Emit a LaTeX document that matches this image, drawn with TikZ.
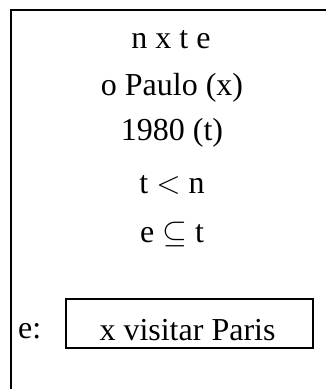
\RequirePackage{fix-cm}
\documentclass[tikz,border=0pt]{standalone}
\usepackage{fontspec}
\setmainfont{Liberation Serif}
\begin{document}
\begin{tikzpicture}[x=1pt,y=-1pt,
  txt/.style={font=\fontsize{32}{38}\selectfont, inner sep=0pt},
  frame/.style={line width=1.8pt},
  evbox/.style={draw, line width=1.4pt, minimum width=247pt, minimum height=49pt, inner sep=0pt}]
\useasboundingbox (0,0) rectangle (325,389);
\fill[white] (0,0) rectangle (325,389);
\coordinate (fb) at (11,392);
\coordinate (fc) at (11,10);
\coordinate (fr) at (328,10);
\draw[frame] (fb) -- (fc) -- (fr);
\node[txt, anchor=base] (l1) at (171,48) {n x t e};
\node[txt, anchor=base] (l2) at (172,95) {o Paulo (x)};
\node[txt, anchor=base] (l3) at (172,140) {1980 (t)};
\node[txt, anchor=base] (l4) at (172,193) {t $<$ n};
\node[txt, anchor=base] (l5) at (172,242) {e $\subseteq$ t};
\node[evbox] (box) at (189.5,323.5) {};
\node[txt, anchor=base] (ev) at (187.5,340) {x visitar Paris};
\node[txt, anchor=base west] (elab) at (18,338) {e:};
\end{tikzpicture}
\end{document}
